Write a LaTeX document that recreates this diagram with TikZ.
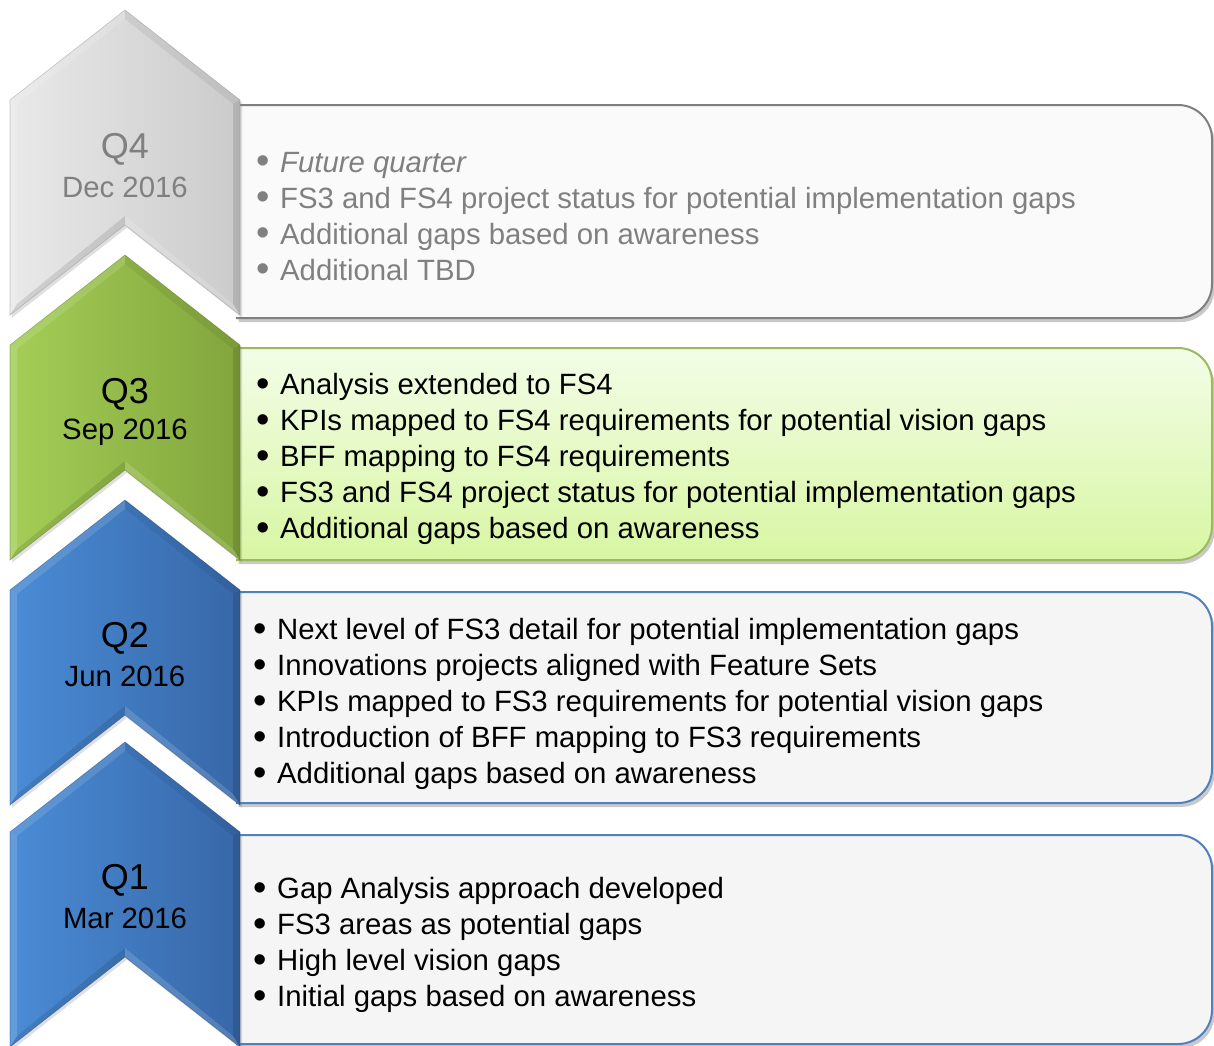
\documentclass[tikz,border=0pt]{standalone}
\usepackage{fontspec}
\setmainfont{Liberation Sans}
\usetikzlibrary{shadows}

\definecolor{futuregrey}{HTML}{808080}
\definecolor{greyedge}{HTML}{7F7F7F}
\definecolor{greenedge}{HTML}{9BBB59}
\definecolor{blueedge}{HTML}{4F81BD}
\definecolor{greyL}{HTML}{E9E9E9}
\definecolor{greyR}{HTML}{CBCBCB}
\definecolor{greenL}{HTML}{A4CE57}
\definecolor{greenR}{HTML}{82A53C}
\definecolor{blueL}{HTML}{4A8CD6}
\definecolor{blueR}{HTML}{3767A8}
\definecolor{greenTop}{HTML}{F3FDE7}
\definecolor{greenBot}{HTML}{D8F6A3}

\tikzset{
  qlabel/.style={font=\fontsize{27}{30}\selectfont},
  qdate/.style={font=\fontsize{22}{26}\selectfont},
  items/.style={anchor=west, align=left, inner sep=0pt, font=\fontsize{22}{27}\selectfont},
  boxshadow/.style={drop shadow={shadow xshift=2pt, shadow yshift=-3pt, opacity=0.3, fill=black!70}},
  greybox/.style={boxshadow, fill=white!98!black, draw=greyedge, line width=1.5pt},
  greenbox/.style={boxshadow, top color=greenTop, bottom color=greenBot, draw=greenedge, line width=1.5pt},
  bluebox/.style={boxshadow, fill=white!96!black, draw=blueedge, line width=1.5pt},
}

\newcommand{\itm}{\raisebox{-0.06em}{\scalebox{1.3}{\textbullet}}\hspace{0.36em}}

% text box, square on the left, rounded on the right: top y, bottom y, style
\newcommand{\gapbox}[3]{%
  \path[#3] (236,#1) -- (1178,#1) arc(-90:0:34) -- (1212,#2-34) arc(0:90:34) -- (236,#2);
}

% bevelled chevron: top y, left colour, right colour
\newcommand{\chevron}[3]{%
  \shade[left color=#2, right color=#3,
         drop shadow={shadow xshift=1.5pt, shadow yshift=-2pt, opacity=0.25}]
    (125,#1) -- (240,#1+90) -- (240,#1+305) -- (125,#1+215) -- (10,#1+305) -- (10,#1+90) -- cycle;
  % bevel facets
  \fill[white, opacity=0.12] (125,#1) -- (10,#1+90) -- (17,#1+94) -- (125,#1+9) -- cycle;
  \fill[black, opacity=0.06] (125,#1) -- (240,#1+90) -- (233,#1+94) -- (125,#1+9) -- cycle;
  \fill[white, opacity=0.15] (10,#1+90) -- (10,#1+305) -- (17,#1+294) -- (17,#1+94) -- cycle;
  \fill[black, opacity=0.12] (240,#1+90) -- (240,#1+305) -- (233,#1+294) -- (233,#1+94) -- cycle;
  \fill[black, opacity=0.1] (10,#1+305) -- (125,#1+215) -- (125,#1+206) -- (17,#1+294) -- cycle;
  \fill[white, opacity=0.15] (125,#1+215) -- (240,#1+305) -- (233,#1+294) -- (125,#1+206) -- cycle;
  \draw[#3!70!black, line width=0.4pt, opacity=0.5]
    (125,#1) -- (240,#1+90) -- (240,#1+305) -- (125,#1+215) -- (10,#1+305) -- (10,#1+90) -- cycle;
}

\begin{document}
\begin{tikzpicture}[x=0.75pt, y=-0.75pt]
  \useasboundingbox (0,0) rectangle (1214,1046);

  % boxes behind the chevrons
  \gapbox{105}{318}{greybox}
  \gapbox{348}{560}{greenbox}
  \gapbox{592}{803}{bluebox}
  \gapbox{835}{1044}{bluebox}

  % chevrons, top to bottom
  \chevron{10}{greyL}{greyR}
  \chevron{255}{greenL}{greenR}
  \chevron{500}{blueL}{blueR}
  \chevron{742}{blueL}{blueR}

  % quarter labels
  \node[qlabel, futuregrey] (q4) at (125,149) {Q4};
  \node[qdate, futuregrey] (q4date) at (125,187) {Dec 2016};
  \node[qlabel] (q3) at (125,394) {Q3};
  \node[qdate] (q3date) at (125,432) {Sep 2016};
  \node[qlabel] (q2) at (125,638) {Q2};
  \node[qdate] (q2date) at (125,676) {Jun 2016};
  \node[qlabel] (q1) at (125,880) {Q1};
  \node[qdate] (q1date) at (125,918) {Mar 2016};

  % bullet lists
  \node[items, futuregrey] (t4) at (256,217) {%
    \itm\textit{Future quarter}\\
    \itm FS3 and FS4 project status for potential implementation gaps\\
    \itm Additional gaps based on awareness\\
    \itm Additional TBD};
  \node[items] (t3) at (256,459) {%
    \itm Analysis extended to FS4\\
    \itm KPIs mapped to FS4 requirements for potential vision gaps\\
    \itm BFF mapping to FS4 requirements\\
    \itm FS3 and FS4 project status for potential implementation gaps\\
    \itm Additional gaps based on awareness};
  \node[items] (t2) at (253,704) {%
    \itm Next level of FS3 detail for potential implementation gaps\\
    \itm Innovations projects aligned with Feature Sets\\
    \itm KPIs mapped to FS3 requirements for potential vision gaps\\
    \itm Introduction of BFF mapping to FS3 requirements\\
    \itm Additional gaps based on awareness};
  \node[items] (t1) at (253,945) {%
    \itm Gap Analysis approach developed\\
    \itm FS3 areas as potential gaps\\
    \itm High level vision gaps\\
    \itm Initial gaps based on awareness};
\end{tikzpicture}
\end{document}
